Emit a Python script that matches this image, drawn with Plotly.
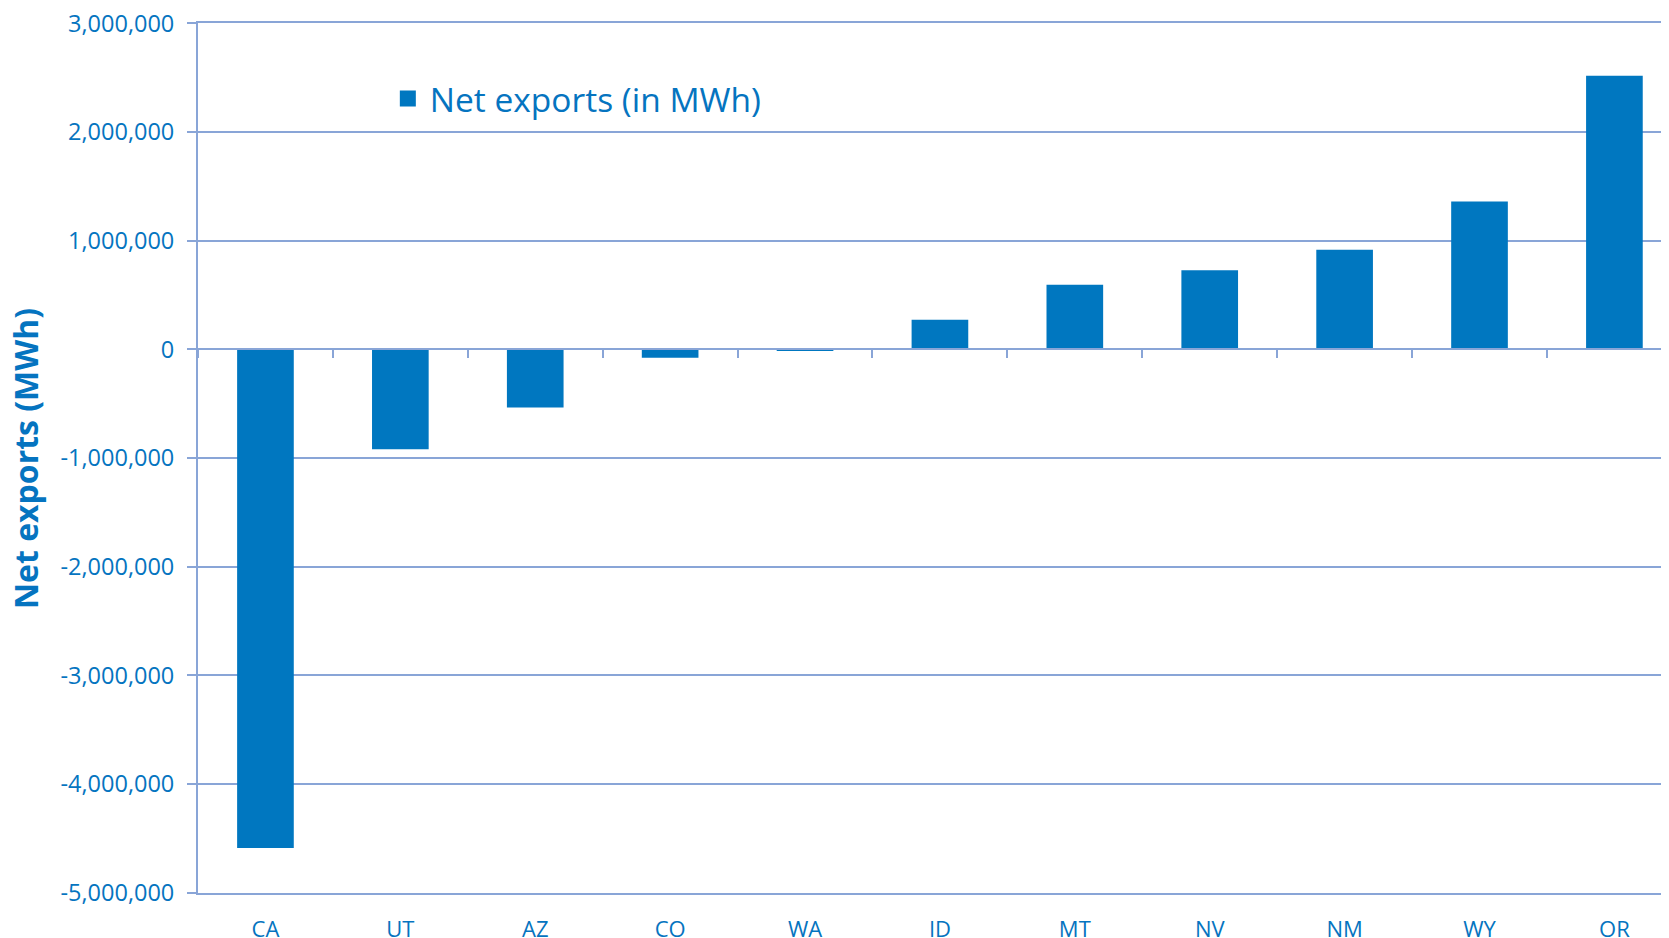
import plotly.graph_objects as go

states = ["CA", "UT", "AZ", "CO", "WA", "ID", "MT", "NV", "NM", "WY", "OR"]
net_exports = [-4590000, -920000, -536000, -77000, -15000, 273000, 595000, 727000, 917000, 1360000, 2518000]
y_ticks = [-5000000, -4000000, -3000000, -2000000, -1000000, 0, 1000000, 2000000, 3000000]
y_tick_labels = ["-5,000,000", "-4,000,000", "-3,000,000", "-2,000,000", "-1,000,000", "0",
                 "1,000,000", "2,000,000", "3,000,000"]
series_name = "Net exports (in MWh)"
y_title = "Net exports (MWh)"

BAR = "#0077C0"
TXT = "#0574C0"
GRID = "#89A5D7"
FONT = "Open Sans"

xr = [-0.5, 10.464]
yr = [-5003000, 3003000]

fig = go.Figure()
fig.add_trace(go.Bar(x=states, y=net_exports, marker=dict(color=BAR, line=dict(width=0)),
                     width=0.42, showlegend=False, name=series_name))
# label-only axis trace (invisible)
fig.add_trace(go.Scatter(x=states, y=net_exports, xaxis="x2", mode="markers",
                         marker=dict(opacity=0), hoverinfo="skip", showlegend=False))
# legend entry
fig.add_trace(go.Scatter(x=[None], y=[None], mode="markers", name=series_name,
                         marker=dict(symbol="square", size=16, color=BAR)))

zero_pos = (0 - yr[0]) / (yr[1] - yr[0])

fig.update_layout(
    width=1669, height=938,
    margin=dict(l=190, r=0, t=15, b=53),
    plot_bgcolor="white", paper_bgcolor="white",
    font=dict(family=FONT, color=TXT),
    showlegend=True,
    legend=dict(x=0.127, y=0.913, xanchor="left", yanchor="middle", itemwidth=34,
                font=dict(size=33.5, color=TXT, family=FONT), bgcolor="rgba(0,0,0,0)"),
    xaxis=dict(type="category", range=xr, anchor="free", position=zero_pos,
               showline=True, linecolor=GRID, linewidth=2,
               ticks="outside", tickson="boundaries", ticklen=8, tickcolor=GRID, tickwidth=2,
               showticklabels=False, showgrid=False, zeroline=False, fixedrange=True),
    xaxis2=dict(type="category", range=xr, overlaying="x", anchor="y", side="bottom",
                showline=True, mirror=True, linecolor=GRID, linewidth=2,
                ticks="", showgrid=False, zeroline=False,
                tickfont=dict(size=22, color=TXT, family=FONT), ticklabelstandoff=16),
    yaxis=dict(range=yr, tickvals=y_ticks, ticktext=y_tick_labels,
               showgrid=True, gridcolor=GRID, gridwidth=2, zeroline=False,
               showline=True, linecolor=GRID, linewidth=2, ticklabeloverflow="allow",
               ticks="outside", ticklen=9, tickcolor=GRID, tickwidth=2,
               tickfont=dict(size=23.5, color=TXT, family=FONT), ticklabelstandoff=8),
    annotations=[dict(text=y_title, xref="paper", yref="paper", x=-0.117, y=0.5,
                      xanchor="center", yanchor="middle", textangle=-90, showarrow=False,
                      font=dict(size=32, color=TXT, family=FONT, weight="bold"))],
)

fig.write_html("out.html")
